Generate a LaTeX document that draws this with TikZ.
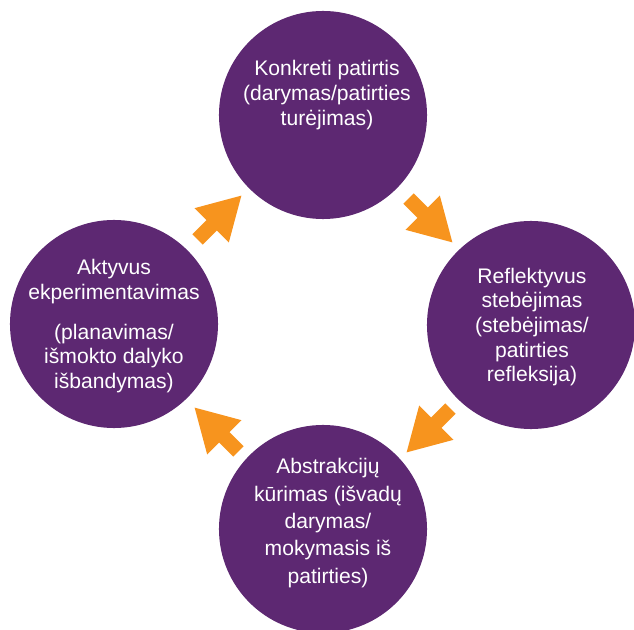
\documentclass[tikz,border=0pt]{standalone}
\usepackage{fontspec}
\setmainfont{Liberation Sans}
\usetikzlibrary{shapes.arrows}
\definecolor{kolbpurple}{RGB}{93,40,114}
\definecolor{kolborange}{RGB}{247,148,30}
\tikzset{
  phase/.style={circle,fill=kolbpurple,minimum size=5.2cm,inner sep=0pt},
  phasetext/.style={text=white,align=center,inner sep=0pt,font=\fontsize{15}{17.5}\selectfont},
  turn/.style={single arrow,fill=kolborange,inner xsep=0pt,inner ysep=0.175cm,
    single arrow head extend=0.425cm,single arrow tip angle=60,
    single arrow head indent=0pt,minimum height=1.55cm}
}
\begin{document}
\begin{tikzpicture}[x=0.025cm,y=-0.025cm]
			\useasboundingbox (0,0) rectangle (634,630);
			% circles
			\node[phase] (konk) at (323,115) {};
			\node[phase] (refl) at (531,325) {};
			\node[phase] (abst) at (323,529) {};
			\node[phase] (akty) at (114,324) {};
			% texts
			\node[phasetext] (konktxt) at (327,95) {Konkreti patirtis\\(darymas/patirties\\turėjimas)};
			\node[phasetext] (refltxt) at (532,327) {Reflektyvus\\stebėjimas\\(stebėjimas/\\patirties\\refleksija)};
			\node[phasetext,font=\fontsize{15}{19.5}\selectfont] (absttxt) at (328,523) {Abstrakcijų\\kūrimas (išvadų\\darymas/\\mokymasis iš\\patirties)};
			\node[phasetext] (aktytxt) at (114,326) {Aktyvus\\ekperimentavimas\\[11pt](planavimas/\\išmokto dalyko\\išbandymas)};
			% arrows
			\node[turn,rotate=-45] (konk2refl) at (426,216) {};
			\node[turn,rotate=-135] (refl2abst) at (433,426) {};
			\node[turn,rotate=135] (abst2akty) at (221,434) {};
			\node[turn,rotate=45] (akty2konk) at (215,222) {};
		\end{tikzpicture}
\end{document}
